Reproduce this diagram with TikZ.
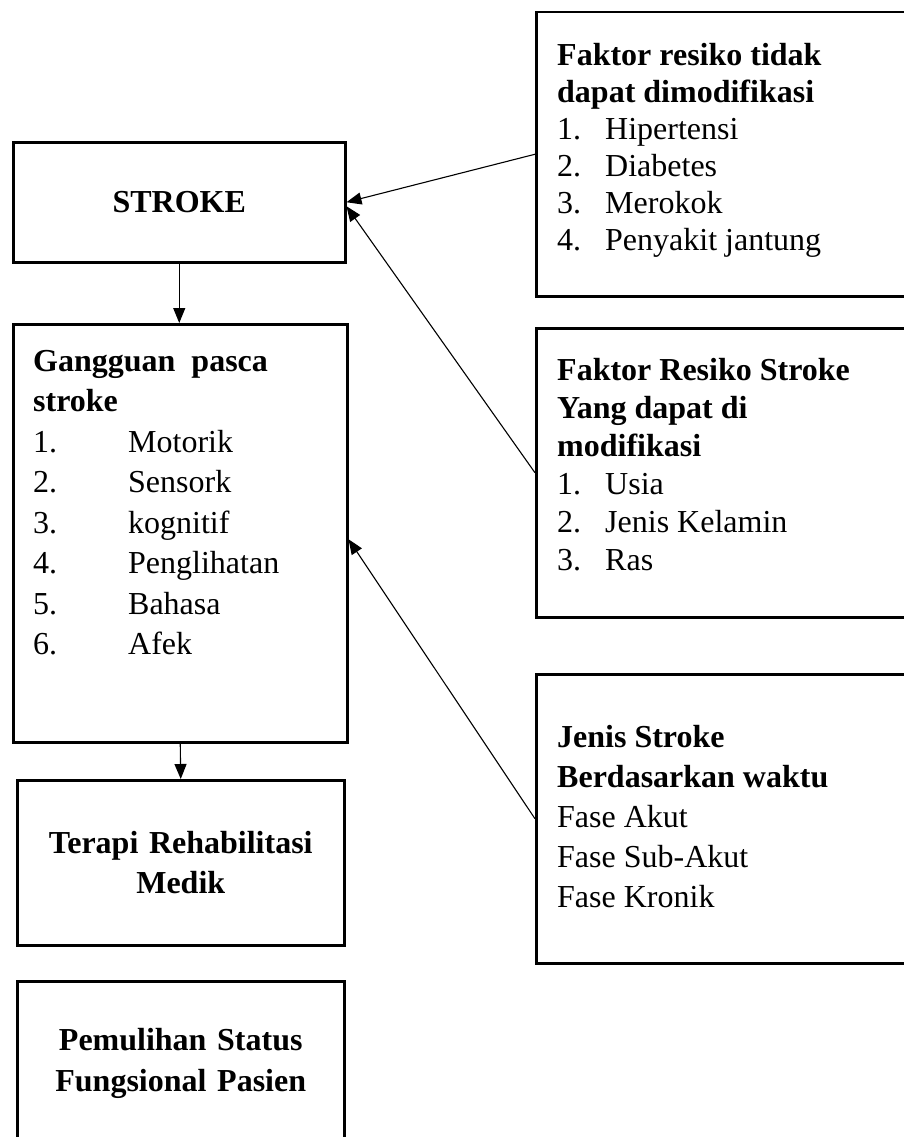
\documentclass[tikz,border=0pt]{standalone}
\usepackage{fontspec}
\setmainfont{Liberation Serif}
\usetikzlibrary{arrows.meta}
\tikzstyle{panah} = [-{Triangle[length=15pt,width=12pt]}, line width=1.1pt]
\tikzstyle{kotak} = [draw, rectangle, line width=2.5pt, anchor=north west, inner sep=0pt, font=\fontsize{32}{40}\selectfont]
\tikzstyle{isi} = [anchor=north west, inner sep=0pt, align=left]
\newcommand{\nomor}[2]{\makebox[#1][l]{#2}}

\begin{document}
\begin{tikzpicture}[x=1pt,y=-1pt]
        \useasboundingbox (0,0) rectangle (904,1137);
        % kotak kiri
        \node[kotak, minimum width=332pt, minimum height=120pt] at (12,141) (stroke) {\textbf{STROKE}};
        \node[kotak, minimum width=334pt, minimum height=418pt] at (12,323) (gangguan) {};
        \node[kotak, minimum width=327pt, minimum height=165pt, text width=310pt, align=center] at (16,779) (terapi) {\textbf{Terapi Rehabilitasi}\\\textbf{Medik}};
        \node[kotak, minimum width=327pt, minimum height=165pt, text width=310pt, align=center, font=\fontsize{32}{41}\selectfont] at (16,980) (pemulihan) {\textbf{Pemulihan Status}\\\textbf{Fungsional Pasien}};
        % kotak kanan
        \node[kotak, minimum width=400pt, minimum height=284pt] at (535,11) (faktorA) {};
        \node[kotak, minimum width=400pt, minimum height=289pt] at (535,327) (faktorB) {};
        \node[kotak, minimum width=400pt, minimum height=289pt] at (535,673) (jenis) {};

        \node[isi, font=\fontsize{32}{40.5}\selectfont] at (33,350) (gangguanisi) {\textbf{Gangguan\ \ pasca}\\\textbf{stroke}\\
            \nomor{95pt}{1.}Motorik\\\nomor{95pt}{2.}Sensork\\\nomor{95pt}{3.}kognitif\\
            \nomor{95pt}{4.}Penglihatan\\\nomor{95pt}{5.}Bahasa\\\nomor{95pt}{6.}Afek};
        \node[isi, font=\fontsize{32}{37}\selectfont] at (557,43) (faktorAisi) {\textbf{Faktor resiko tidak}\\\textbf{dapat dimodifikasi}\\
            \nomor{48pt}{1.}Hipertensi\\\nomor{48pt}{2.}Diabetes\\\nomor{48pt}{3.}Merokok\\\nomor{48pt}{4.}Penyakit jantung};
        \node[isi, font=\fontsize{32}{38}\selectfont] at (557,358) (faktorBisi) {\textbf{Faktor Resiko Stroke}\\\textbf{Yang dapat di}\\\textbf{modifikasi}\\
            \nomor{48pt}{1.}Usia\\\nomor{48pt}{2.}Jenis Kelamin\\\nomor{48pt}{3.}Ras};
        \node[isi, font=\fontsize{32}{40}\selectfont] at (557,725) (jenisisi) {\textbf{Jenis Stroke}\\\textbf{Berdasarkan waktu}\\
            Fase Akut\\Fase Sub-Akut\\Fase Kronik};

        \draw[panah] (stroke.south) -- (stroke.south |- gangguan.north);
        \draw[panah] (gangguan.south) -- (terapi.north);
        \draw[panah] (faktorA.west) -- (stroke.east);
        \draw[panah] (faktorB.west) -- ([yshift=-4pt]stroke.east);
        \draw[panah] (jenis.west) -- ([yshift=-6pt]gangguan.east);
    \end{tikzpicture}
\end{document}
